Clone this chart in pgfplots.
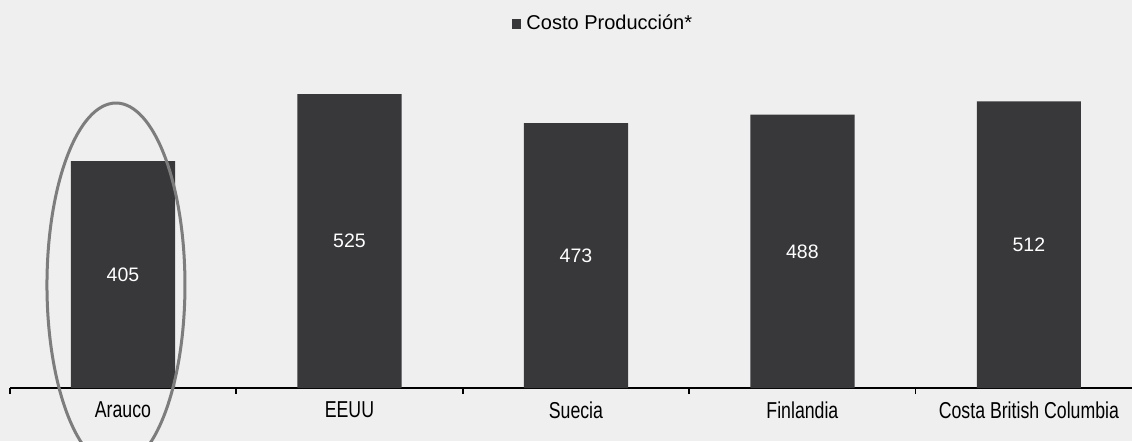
\documentclass[border=0pt]{standalone}
\usepackage{fontspec}
\setmainfont{Liberation Sans}
\newfontfamily\narrowfont{Liberation Sans}[FakeStretch=0.77]
\usepackage{pgfplots}
\pgfplotsset{compat=1.18}
\definecolor{barc}{RGB}{56,56,58}
\definecolor{bgc}{RGB}{239,239,239}
\definecolor{ell}{RGB}{125,125,125}
\begin{document}
\begin{tikzpicture}
\fill[bgc] (-4.875pt,-26.5pt) rectangle (561.125pt,194pt);
\begin{axis}[
  scale only axis, width=561.1pt, height=168pt,
  xmin=-0.5, xmax=4.455, ymin=0, ymax=600,
  clip=false,
  /pgf/number format/assume math mode=true,
  axis x line*=bottom, axis y line=none,
  axis line style={black, line width=0.9pt, -},
  xtick={0,1,2,3,4},
  xticklabels={Arauco,EEUU,Suecia,Finlandia,Costa British Columbia},
  major x tick style={draw=none},
  minor xtick={-0.5,0.5,1.5,2.5,3.5},
  minor x tick style={black, line width=0.8pt},
  tick align=outside, minor tick length=3pt, major tick length=0pt,
  x tick label style={font=\narrowfont\fontsize{11.5}{13}\selectfont, yshift=-3.5pt},
  ytick=\empty,
  ybar, bar width=0.46,
  legend style={at={(0.530,1.084)}, anchor=center, draw=none, fill=none,
    font=\fontsize{10}{11}\selectfont,
    nodes={inner xsep=2.5pt}},
]
\addplot[fill=barc, draw=none,
  nodes near coords,
  visualization depends on={y \as \rawy},
  nodes near coords style={font=\fontsize{9.75}{11}\selectfont, color=white, anchor=center,
    /pgf/number format/assume math mode=true,
    shift={(axis direction cs:0,-\rawy/2)}},
  legend image code/.code={\fill[barc] (0pt,-2.4pt) rectangle (4.8pt,2.4pt);}
] coordinates {(0,405) (1,525) (2,473) (3,488) (4,512)};
\addlegendentry{Costo Producción*}
\draw[ell, line width=1.5pt] (axis cs:-0.031,183.9) ellipse [x radius=34.5pt, y radius=91pt];
\end{axis}
\pgfresetboundingbox
\path (-4.875pt,-26.5pt) rectangle (561.125pt,194pt);
\end{tikzpicture}
\end{document}
